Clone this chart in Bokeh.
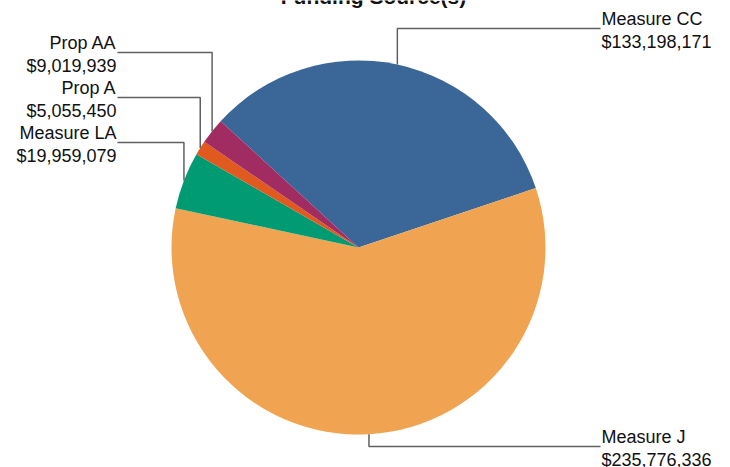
import math
from bokeh.plotting import figure
from bokeh.models import Range1d, ColumnDataSource
from bokeh.core.properties import value
from bokeh.embed import file_html
from bokeh.resources import INLINE

# ---- data ----
sources = ["Measure CC", "Measure J", "Measure LA", "Prop A", "Prop AA"]
amounts = [133198171, 235776336, 19959079, 5055450, 9019939]
colors = ["#3b6698", "#f0a451", "#009a73", "#e05a20", "#a12c62"]
title = "Funding Source(s)"

# ---- layout constants (picture pixels) ----
W, H = 730, 467
def px(x):
    return x
def py(y):
    return H - y

CX, CY, R = 358, 247, 187
START = 137.5  # degrees, math orientation, slices go clockwise

label_side = {"Measure CC": "right", "Measure J": "right",
              "Measure LA": "left", "Prop A": "left", "Prop AA": "left"}
label_line_y = {"Measure CC": 28, "Measure J": 446,
                "Measure LA": 142, "Prop A": 97, "Prop AA": 52}
RIGHT_X = 600
LEFT_X = 117
FS = "18px"

p = figure(width=W, height=H, output_backend="svg", toolbar_location=None,
           x_range=Range1d(0, W), y_range=Range1d(0, H),
           min_border=0, outline_line_color=None)
p.axis.visible = False
p.grid.visible = False
p.background_fill_color = "white"
p.border_fill_color = "white"

total = float(sum(amounts))
starts, ends, mids = [], [], []
cur = START
for a in amounts:
    span = a / total * 360.0
    starts.append(math.radians(cur))
    ends.append(math.radians(cur - span))
    mids.append(math.radians(cur - span / 2))
    cur -= span

src = ColumnDataSource(dict(start=starts, end=ends, color=colors))
p.wedge(x=px(CX), y=py(CY), radius=R, start_angle="start", end_angle="end",
        direction="clock", fill_color="color", line_color=None, source=src)

for name, amt, m in zip(sources, amounts, mids):
    ex = CX + R * math.cos(m)
    ey = CY - R * math.sin(m)
    ly = label_line_y[name]
    side = label_side[name]
    hx = RIGHT_X if side == "right" else LEFT_X
    p.line([px(ex), px(ex), px(hx)], [py(ey), py(ly), py(ly)],
           line_color="#606060", line_width=1.5)
    txt = f"{name}\n${amt:,}"
    if side == "right":
        p.text(x=[px(hx + 1)], y=[py(ly - 20)], text=[txt],
               text_font=value("Liberation Sans"), text_font_size=FS,
               text_color="#111111", text_align="left", text_baseline="top",
               text_line_height=1.18)
    else:
        p.text(x=[px(hx - 1)], y=[py(ly - 20)], text=[txt],
               text_font=value("Liberation Sans"), text_font_size=FS,
               text_color="#111111", text_align="right", text_baseline="top",
               text_line_height=1.18)

p.text(x=[px(373)], y=[py(7)], text=[title],
       text_font=value("Liberation Sans"), text_font_size="21px",
       text_font_style="bold", text_color="#111111",
       text_align="center", text_baseline="bottom")

open("out.html", "w").write(file_html(p, INLINE))
